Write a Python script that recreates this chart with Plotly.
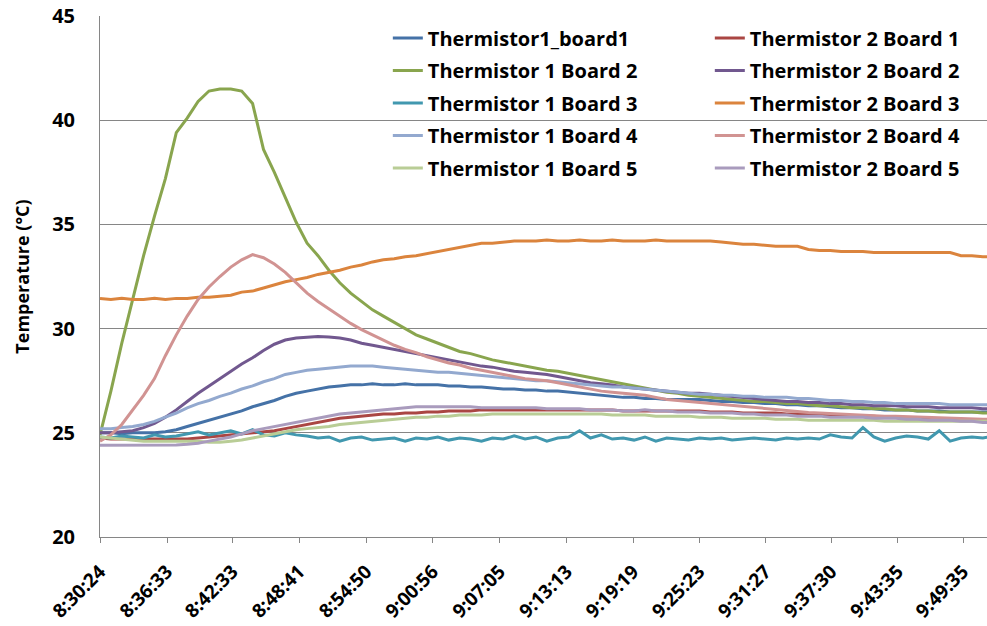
import pandas as pd
import plotly.graph_objects as go

# ---- data (one sample per minute starting 8:30:24) ----
start_time = "2024-01-01 08:30:24"
end_time = "2024-01-01 09:51:47"

tick_labels = ["8:30:24", "8:36:33", "8:42:33", "8:48:41", "8:54:50", "9:00:56", "9:07:05",
               "9:13:13", "9:19:19", "9:25:23", "9:31:27", "9:37:30", "9:43:35", "9:49:35"]

t1_board1 = [25.0, 25.0, 24.95, 25.0, 25.0, 25.0, 25.05, 25.15, 25.3, 25.45, 25.6, 25.75, 25.9, 26.05,
             26.25, 26.4, 26.55, 26.75, 26.9, 27.0, 27.1, 27.2, 27.25, 27.3, 27.3, 27.35, 27.3, 27.3,
             27.35, 27.3, 27.3, 27.3, 27.25, 27.25, 27.2, 27.2, 27.15, 27.1, 27.1, 27.05, 27.05, 27.0,
             27.0, 26.95, 26.9, 26.85, 26.8, 26.75, 26.7, 26.7, 26.65, 26.65, 26.6, 26.6, 26.6, 26.6,
             26.55, 26.5, 26.5, 26.45, 26.45, 26.4, 26.4, 26.35, 26.35, 26.3, 26.3, 26.25, 26.2, 26.2,
             26.15, 26.15, 26.1, 26.1, 26.1, 26.05, 26.05, 26.05, 26.0, 26.0, 26.0, 26.0, 26.0]
t2_board1 = [24.75, 24.7, 24.7, 24.7, 24.7, 24.7, 24.7, 24.7, 24.7, 24.75, 24.8, 24.85, 24.9, 24.95,
             25.0, 25.05, 25.1, 25.2, 25.3, 25.4, 25.5, 25.6, 25.7, 25.75, 25.8, 25.85, 25.9, 25.9,
             25.95, 25.95, 26.0, 26.0, 26.05, 26.05, 26.05, 26.1, 26.1, 26.1, 26.1, 26.1, 26.1, 26.1,
             26.1, 26.1, 26.1, 26.1, 26.1, 26.1, 26.05, 26.05, 26.05, 26.05, 26.05, 26.05, 26.05, 26.05,
             26.0, 26.0, 26.0, 25.95, 25.95, 25.95, 25.95, 25.9, 25.9, 25.9, 25.85, 25.85, 25.85, 25.8,
             25.8, 25.8, 25.75, 25.75, 25.7, 25.7, 25.7, 25.65, 25.65, 25.6, 25.6, 25.55, 25.55]
t1_board2 = [24.9, 27.0, 29.3, 31.4, 33.5, 35.4, 37.2, 39.4, 40.1, 40.9, 41.4, 41.5, 41.5, 41.4,
             40.8, 38.6, 37.5, 36.3, 35.1, 34.1, 33.5, 32.8, 32.2, 31.7, 31.3, 30.9, 30.6, 30.3,
             30.0, 29.7, 29.5, 29.3, 29.1, 28.9, 28.8, 28.65, 28.5, 28.4, 28.3, 28.2, 28.1, 28.0,
             27.95, 27.85, 27.75, 27.65, 27.55, 27.45, 27.35, 27.25, 27.15, 27.05, 26.95, 26.9, 26.8, 26.75,
             26.7, 26.65, 26.6, 26.55, 26.5, 26.5, 26.45, 26.4, 26.4, 26.35, 26.3, 26.3, 26.25, 26.2,
             26.2, 26.15, 26.15, 26.1, 26.1, 26.05, 26.05, 26.0, 26.0, 26.0, 26.0, 25.95, 25.95]
t2_board2 = [25.0, 25.0, 25.05, 25.1, 25.25, 25.45, 25.75, 26.1, 26.5, 26.9, 27.25, 27.6, 27.95, 28.3,
             28.6, 28.95, 29.25, 29.45, 29.55, 29.6, 29.62, 29.6, 29.55, 29.45, 29.3, 29.2, 29.1, 29.0,
             28.9, 28.8, 28.7, 28.6, 28.5, 28.4, 28.3, 28.2, 28.15, 28.05, 27.95, 27.9, 27.85, 27.8,
             27.7, 27.6, 27.5, 27.4, 27.35, 27.3, 27.2, 27.15, 27.1, 27.05, 27.0, 26.95, 26.9, 26.9,
             26.85, 26.8, 26.75, 26.7, 26.65, 26.6, 26.55, 26.5, 26.5, 26.45, 26.45, 26.4, 26.4, 26.35,
             26.35, 26.3, 26.3, 26.3, 26.25, 26.25, 26.25, 26.2, 26.2, 26.2, 26.2, 26.15, 26.15]
t1_board3 = [24.8, 24.75, 24.85, 24.8, 24.75, 24.9, 24.8, 24.85, 24.95, 25.05, 24.9, 25.0, 25.1, 24.95,
             25.15, 24.9, 24.85, 25.0, 24.9, 24.85, 24.75, 24.8, 24.6, 24.75, 24.8, 24.65, 24.7, 24.75,
             24.6, 24.75, 24.7, 24.8, 24.65, 24.75, 24.7, 24.6, 24.75, 24.7, 24.85, 24.7, 24.8, 24.6,
             24.75, 24.8, 25.1, 24.75, 24.9, 24.7, 24.75, 24.65, 24.8, 24.6, 24.75, 24.7, 24.65, 24.75,
             24.7, 24.75, 24.65, 24.7, 24.75, 24.7, 24.65, 24.75, 24.7, 24.75, 24.7, 24.9, 24.8, 24.75,
             25.25, 24.8, 24.6, 24.75, 24.85, 24.8, 24.7, 25.1, 24.6, 24.75, 24.8, 24.75, 24.85]
t2_board3 = [31.45, 31.4, 31.45, 31.4, 31.4, 31.45, 31.4, 31.45, 31.45, 31.5, 31.5, 31.55, 31.6, 31.75,
             31.8, 31.95, 32.1, 32.25, 32.35, 32.45, 32.6, 32.7, 32.8, 32.95, 33.05, 33.2, 33.3, 33.35,
             33.45, 33.5, 33.6, 33.7, 33.8, 33.9, 34.0, 34.1, 34.1, 34.15, 34.2, 34.2, 34.2, 34.25,
             34.2, 34.2, 34.25, 34.2, 34.2, 34.25, 34.2, 34.2, 34.2, 34.25, 34.2, 34.2, 34.2, 34.2,
             34.2, 34.15, 34.1, 34.05, 34.05, 34.0, 33.95, 33.95, 33.95, 33.8, 33.75, 33.75, 33.7, 33.7,
             33.7, 33.65, 33.65, 33.65, 33.65, 33.65, 33.65, 33.65, 33.65, 33.5, 33.5, 33.45, 33.45]
t1_board4 = [25.2, 25.2, 25.25, 25.3, 25.4, 25.55, 25.75, 25.95, 26.2, 26.4, 26.55, 26.75, 26.9, 27.1,
             27.25, 27.45, 27.6, 27.8, 27.9, 28.0, 28.05, 28.1, 28.15, 28.2, 28.2, 28.2, 28.15, 28.1,
             28.05, 28.0, 27.95, 27.9, 27.9, 27.85, 27.8, 27.75, 27.7, 27.65, 27.6, 27.55, 27.5, 27.5,
             27.45, 27.4, 27.35, 27.3, 27.25, 27.2, 27.2, 27.15, 27.1, 27.05, 27.0, 26.95, 26.9, 26.85,
             26.85, 26.8, 26.8, 26.75, 26.75, 26.7, 26.7, 26.7, 26.65, 26.65, 26.6, 26.55, 26.55, 26.5,
             26.5, 26.45, 26.45, 26.4, 26.4, 26.4, 26.4, 26.4, 26.35, 26.35, 26.35, 26.35, 26.35]
t2_board4 = [24.6, 24.9, 25.4, 26.1, 26.8, 27.6, 28.7, 29.7, 30.6, 31.4, 32.0, 32.5, 32.95, 33.3,
             33.55, 33.4, 33.1, 32.7, 32.2, 31.7, 31.3, 30.95, 30.6, 30.25, 29.95, 29.7, 29.45, 29.2,
             29.0, 28.85, 28.65, 28.5, 28.35, 28.25, 28.1, 28.0, 27.9, 27.8, 27.7, 27.6, 27.55, 27.5,
             27.4, 27.3, 27.2, 27.1, 27.0, 26.95, 26.9, 26.85, 26.8, 26.7, 26.6, 26.55, 26.5, 26.45,
             26.4, 26.35, 26.3, 26.25, 26.2, 26.15, 26.1, 26.05, 26.0, 25.98, 25.95, 25.92, 25.9, 25.88,
             25.85, 25.83, 25.8, 25.8, 25.78, 25.75, 25.73, 25.7, 25.7, 25.68, 25.66, 25.65, 25.65]
t1_board5 = [24.8, 24.75, 24.7, 24.65, 24.6, 24.6, 24.6, 24.6, 24.6, 24.6, 24.55, 24.55, 24.6, 24.65,
             24.75, 24.85, 24.95, 25.05, 25.15, 25.2, 25.25, 25.3, 25.4, 25.45, 25.5, 25.55, 25.6, 25.65,
             25.7, 25.75, 25.75, 25.8, 25.8, 25.85, 25.85, 25.85, 25.9, 25.9, 25.9, 25.9, 25.9, 25.9,
             25.9, 25.9, 25.9, 25.9, 25.9, 25.85, 25.85, 25.85, 25.85, 25.8, 25.8, 25.8, 25.8, 25.75,
             25.75, 25.75, 25.7, 25.7, 25.7, 25.7, 25.65, 25.65, 25.65, 25.6, 25.6, 25.6, 25.6, 25.6,
             25.6, 25.6, 25.55, 25.55, 25.55, 25.55, 25.55, 25.55, 25.55, 25.55, 25.55, 25.55, 25.55]
t2_board5 = [24.4, 24.4, 24.4, 24.4, 24.4, 24.4, 24.4, 24.42, 24.45, 24.5, 24.6, 24.7, 24.8, 24.95,
             25.1, 25.2, 25.3, 25.4, 25.5, 25.6, 25.7, 25.8, 25.9, 25.95, 26.0, 26.05, 26.1, 26.15,
             26.2, 26.25, 26.25, 26.25, 26.25, 26.25, 26.25, 26.2, 26.2, 26.2, 26.2, 26.2, 26.2, 26.15,
             26.15, 26.15, 26.15, 26.1, 26.1, 26.1, 26.05, 26.05, 26.1, 26.05, 26.05, 26.0, 26.0, 26.0,
             25.95, 25.95, 25.95, 25.9, 25.9, 25.85, 25.85, 25.85, 25.8, 25.8, 25.8, 25.75, 25.75, 25.75,
             25.75, 25.7, 25.7, 25.7, 25.65, 25.65, 25.6, 25.6, 25.6, 25.55, 25.55, 25.5, 25.5]

series_names = ["Thermistor1_board1", "Thermistor 2 Board 1", "Thermistor 1 Board 2", "Thermistor 2 Board 2",
                "Thermistor 1 Board 3", "Thermistor 2 Board 3", "Thermistor 1 Board 4", "Thermistor 2 Board 4",
                "Thermistor 1 Board 5", "Thermistor 2 Board 5"]
series_values = [t1_board1, t2_board1, t1_board2, t2_board2, t1_board3,
                 t2_board3, t1_board4, t2_board4, t1_board5, t2_board5]
series_colors = ["#4572A7", "#AA4643", "#89A54E", "#71588F", "#4198AF",
                 "#DB843D", "#93A9CF", "#D19392", "#B9CD96", "#A99BBD"]

times = pd.date_range(start_time, periods=len(t1_board1), freq="60s")
tick_vals = ["2024-01-01 %s" % (lbl if len(lbl) == 8 else "0" + lbl) for lbl in tick_labels]

FONT = "Open Sans, sans-serif"

fig = go.Figure()
for i, (name, vals, col) in enumerate(zip(series_names, series_values, series_colors)):
    fig.add_trace(go.Scatter(
        x=times, y=vals, mode="lines", name=name,
        line=dict(color=col, width=3),
        legend="legend" if i % 2 == 0 else "legend2",
        legendgroup=name,
    ))

legend_common = dict(
    bgcolor="rgba(0,0,0,0)", borderwidth=0,
    font=dict(family=FONT, size=20, color="#000000", weight="bold"),
    tracegroupgap=3.5, yanchor="top", y=0.995, xanchor="left",
)

fig.update_layout(
    width=987, height=626,
    margin=dict(l=100, r=0, t=16, b=89),
    paper_bgcolor="white", plot_bgcolor="white",
    showlegend=True,
    legend=dict(x=0.3245, **legend_common),
    legend2=dict(x=0.6875, **legend_common),
    font=dict(family=FONT, color="#000000"),
)
fig.update_xaxes(
    type="date", range=[start_time, end_time], automargin=False,
    tickmode="array", tickvals=tick_vals, ticktext=tick_labels,
    tickangle=-45, ticks="outside", ticklen=5, tickcolor="#868686",
    ticklabelstandoff=10,
    tickfont=dict(family=FONT, size=19, color="#000000", weight="bold"),
    showgrid=False, showline=True, linecolor="#868686", linewidth=1,
    zeroline=False,
)
fig.update_yaxes(
    range=[20, 45], dtick=5, tick0=20, automargin=False,
    showgrid=True, gridcolor="#868686", gridwidth=1,
    showline=True, linecolor="#868686", linewidth=1,
    ticks="", ticklabelstandoff=20,
    tickfont=dict(family=FONT, size=20, color="#000000", weight="bold"),
    title=dict(text="Temperature (°C)", standoff=17,
               font=dict(family=FONT, size=18, color="#000000", weight="bold")),
    zeroline=False,
)

fig.write_html("out.html", config={"displayModeBar": False},
               post_script="document.body.style.margin='0';")
